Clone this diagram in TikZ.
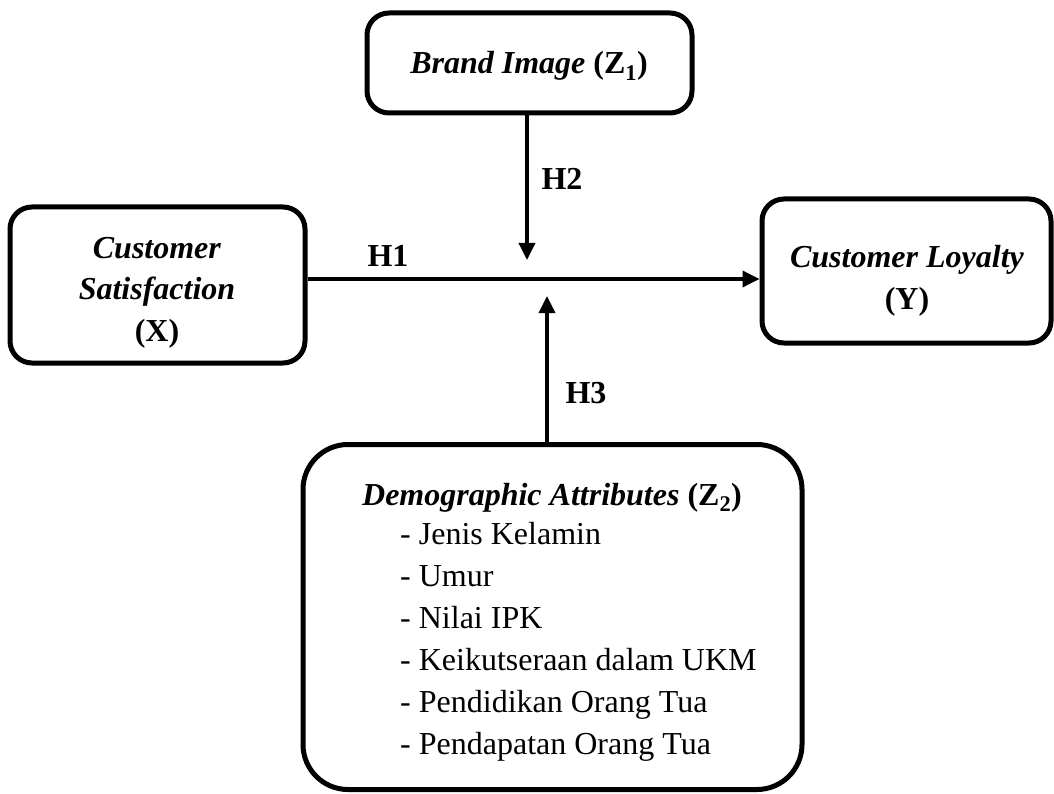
\documentclass[tikz,border=0pt]{standalone}
\usepackage{fontspec}
\setmainfont{Liberation Serif}
\usetikzlibrary{arrows.meta}
\tikzset{
  box/.style={draw, line width=5pt, rounded corners=22pt, inner sep=0pt},
  conn/.style={line width=3.5pt, -{Triangle[length=17pt,width=16pt]}},
  lbl/.style={font=\fontsize{32}{42}\selectfont\bfseries, inner sep=0pt},
  txt/.style={font=\fontsize{32}{42}\selectfont, inner sep=0pt, align=center}
}
\begin{document}
\begin{tikzpicture}[x=1pt,y=-1pt]
\useasboundingbox (0,0) rectangle (1054,794);
% boxes
\node[box, minimum width=325pt, minimum height=100pt] (BI) at (529.5,63) {};
\node[box, minimum width=295pt, minimum height=156pt] (CS) at (157.5,285) {};
\node[box, minimum width=289pt, minimum height=144pt] (CL) at (906.5,271) {};
\node[box, rounded corners=45pt, minimum width=499pt, minimum height=345pt] (DA) at (552.5,617) {};
% texts
\node[txt, anchor=base] (tBI) at (529,74) {\textbf{\textit{Brand Image} (Z\textsubscript{1})}};
\node[txt] (tCS) at (157,293) {\textbf{\textit{Customer}}\\[-0.5pt]\textbf{\textit{Satisfaction}}\\\textbf{(X)}};
\node[txt] (tCL) at (907,281) {\textbf{\textit{Customer Loyalty}}\\\textbf{(Y)}};
\node[txt, anchor=base] (tDA) at (552,505) {\textbf{\textit{Demographic Attributes} (Z\textsubscript{2})}};
\node[txt, anchor=north west, align=left] (list) at (400,522) {- Jenis Kelamin\\- Umur\\- Nilai IPK\\- Keikutseraan dalam UKM\\- Pendidikan Orang Tua\\- Pendapatan Orang Tua};
% connectors
\coordinate (m2) at (527,260);
\coordinate (m3) at (547,296);
\coordinate (m1) at (527,279);
\draw[conn] (CS.east |- m1) -- (CL.west |- m1);
\draw[conn] (BI.south -| m2) -- (m2);
\draw[conn] (DA.north -| m3) -- (m3);
% labels
\node[lbl] (H1) at (388,256) {H1};
\node[lbl] (H2) at (562,179) {H2};
\node[lbl] (H3) at (586,393) {H3};
\end{tikzpicture}
\end{document}
